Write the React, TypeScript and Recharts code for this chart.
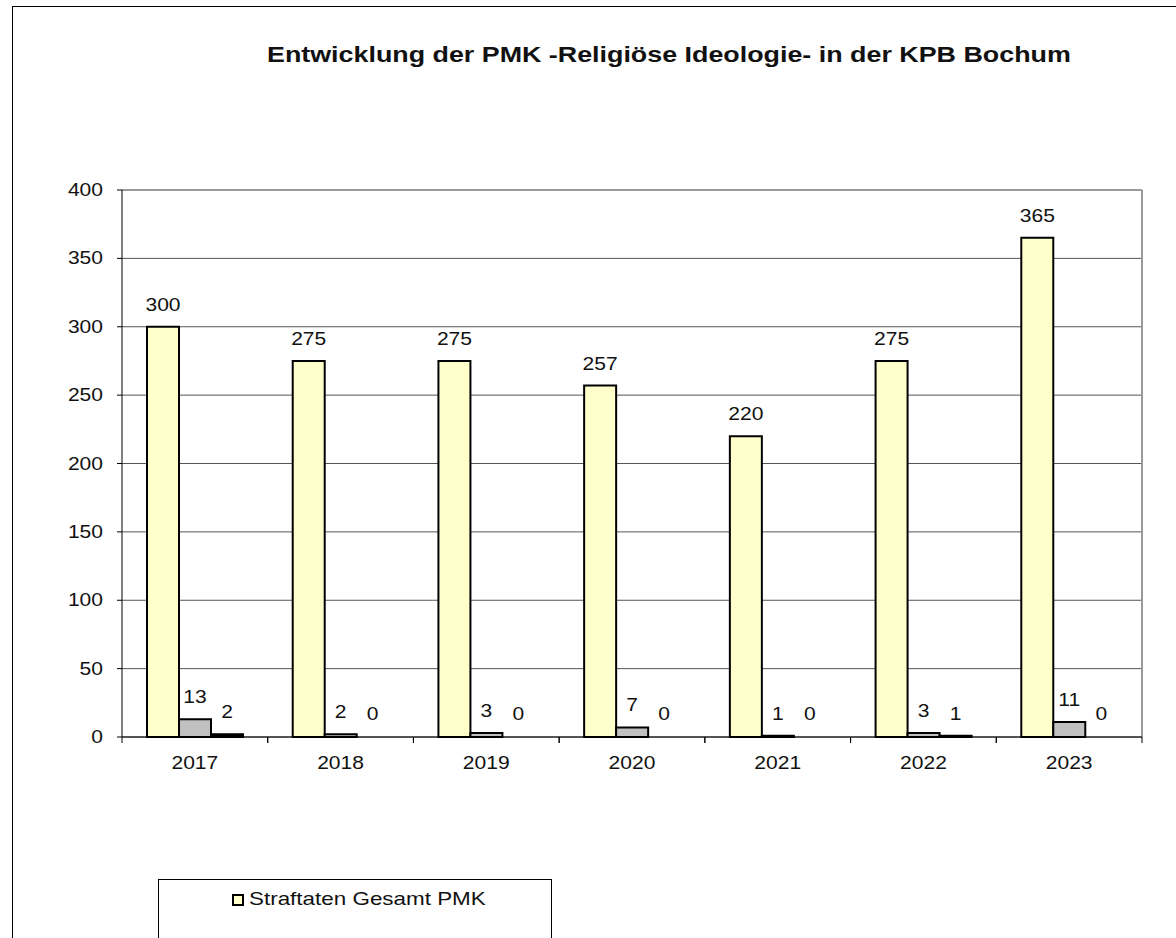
import React from 'react';
import { BarChart, Bar, XAxis, YAxis, CartesianGrid, LabelList, Cell } from 'recharts';

const years = ['2017', '2018', '2019', '2020', '2021', '2022', '2023'];
const gesamt = [300, 275, 275, 257, 220, 275, 365];
const gewalt = [13, 2, 3, 7, 1, 3, 11];
const sonstige = [2, 0, 0, 0, 0, 1, 0];
const yTicks = [0, 50, 100, 150, 200, 250, 300, 350, 400];

const data = years.map((year, i) => ({
  year,
  gesamt: gesamt[i],
  gewalt: gewalt[i],
  sonstige: sonstige[i],
}));

const FONT = '"Liberation Sans", Arial, sans-serif';
const W = 1176;
const H = 938;
const margin = { top: 190, right: 34, left: 0, bottom: 171 };
const xAxisHeight = 30;
const yAxisWidth = 122;
const bandWidth = (W - margin.right - yAxisWidth) / years.length;
const plotBottom = H - margin.bottom - xAxisHeight;
// the original picture is a bit wider than tall, so the text is stretched sideways
const STRETCH = 1.17;

const SText = ({ x, y, anchor = 'middle', children }: any) => (
  <text
    transform={`translate(${x},${y}) scale(${STRETCH},1)`}
    textAnchor={anchor}
    fontSize={18}
    fill="#111"
    fontFamily={FONT}
  >
    {children}
  </text>
);

// category labels with the small tick marks on the category borders
const YearTick = ({ x, y, payload }: any) => (
  <g>
    <line x1={x - bandWidth / 2} x2={x - bandWidth / 2} y1={y - 8} y2={y - 2} stroke="#000" />
    <line x1={x + bandWidth / 2} x2={x + bandWidth / 2} y1={y - 8} y2={y - 2} stroke="#000" />
    <SText x={x} y={y + 24}>{payload.value}</SText>
  </g>
);

const ValueTick = ({ x, y, payload }: any) => (
  <SText x={x} y={y + 6} anchor="end">{payload.value}</SText>
);

const ValueLabel = ({ x, y, width, value }: any) => (
  <SText x={x + width / 2} y={y - 16}>{value}</SText>
);

export default function App() {
  return (
    <div style={{ position: 'fixed', left: 0, top: 0, width: W, height: H, overflow: 'hidden', background: '#fff' }}>
      <div
        style={{
          position: 'absolute',
          left: 12,
          top: 6,
          width: 1300,
          height: 1100,
          border: '1px solid #000',
        }}
      />
      <div
        style={{
          position: 'absolute',
          left: 267,
          top: 42,
          whiteSpace: 'nowrap',
          fontFamily: FONT,
          fontWeight: 'bold',
          fontSize: 22,
          color: '#111',
          transform: 'scaleX(1.22)',
          transformOrigin: 'left top',
        }}
      >
        Entwicklung der PMK -Religiöse Ideologie- in der KPB Bochum
      </div>
      <div style={{ position: 'absolute', left: 0, top: 0 }}>
        <BarChart width={W} height={H} data={data} margin={margin} barGap={0} barSize={32}>
          <CartesianGrid vertical={false} stroke="#555" strokeWidth={1} />
          <line x1={yAxisWidth} x2={W - margin.right} y1={margin.top} y2={margin.top} stroke="#999" strokeWidth={2} />
          <line x1={W - margin.right} x2={W - margin.right} y1={margin.top} y2={plotBottom} stroke="#999" strokeWidth={2} />
          <XAxis
            dataKey="year"
            tickLine={false}
            axisLine={{ stroke: '#000' }}
            height={xAxisHeight}
            interval={0}
            tick={<YearTick />}
          />
          <YAxis
            width={yAxisWidth}
            domain={[0, 400]}
            ticks={yTicks}
            interval={0}
            axisLine={{ stroke: '#000' }}
            tickLine={{ stroke: '#000' }}
            tickSize={5}
            tickMargin={14}
            tick={<ValueTick />}
          />
          <Bar dataKey="gesamt" name="Straftaten Gesamt PMK" fill="#FFFFCC" stroke="#000" strokeWidth={2} isAnimationActive={false}>
            <LabelList dataKey="gesamt" content={<ValueLabel />} />
          </Bar>
          <Bar dataKey="gewalt" name="Gewaltdelikte" fill="#C0C0C0" stroke="#000" strokeWidth={2} minPointSize={1} isAnimationActive={false}>
            {gewalt.map((v, i) => (
              <Cell key={`g-${i}`} stroke={v === 0 ? 'none' : '#000'} fill={v === 0 ? 'none' : '#C0C0C0'} />
            ))}
            <LabelList dataKey="gewalt" content={<ValueLabel />} />
          </Bar>
          <Bar dataKey="sonstige" name="Sonstige" fill="#000" stroke="#000" strokeWidth={2} minPointSize={1} isAnimationActive={false}>
            {sonstige.map((v, i) => (
              <Cell key={`s-${i}`} stroke={v === 0 ? 'none' : '#000'} fill={v === 0 ? 'none' : '#000'} />
            ))}
            <LabelList dataKey="sonstige" content={<ValueLabel />} />
          </Bar>
        </BarChart>
      </div>
      {/* legend box: only its first entry lies inside the picture */}
      <div
        style={{
          position: 'absolute',
          left: 158,
          top: 879,
          width: 394,
          height: 120,
          border: '1px solid #000',
          boxSizing: 'border-box',
        }}
      />
      <div
        style={{
          position: 'absolute',
          left: 232,
          top: 894,
          width: 12,
          height: 12,
          boxSizing: 'border-box',
          background: '#FFFFCC',
          border: '2px solid #000',
        }}
      />
      <div
        style={{
          position: 'absolute',
          left: 249,
          top: 888,
          whiteSpace: 'nowrap',
          fontFamily: FONT,
          fontSize: 19,
          color: '#111',
          transform: 'scaleX(1.18)',
          transformOrigin: 'left top',
        }}
      >
        Straftaten Gesamt PMK
      </div>
    </div>
  );
}
